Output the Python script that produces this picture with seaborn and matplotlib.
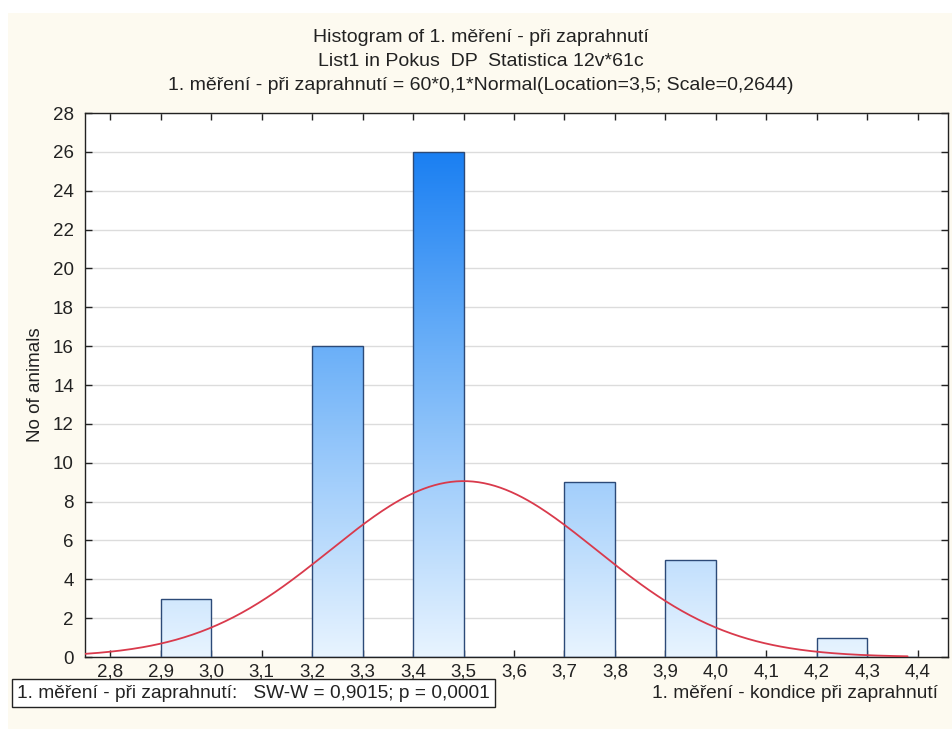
import numpy as np
import pandas as pd
import seaborn as sns
import matplotlib
matplotlib.use("Agg")
import matplotlib.pyplot as plt
from matplotlib.colors import LinearSegmentedColormap
from matplotlib.patches import Rectangle
from matplotlib.ticker import FuncFormatter

# ---- data ----
bin_edges = [2.8, 2.9, 3.0, 3.1, 3.2, 3.3, 3.4, 3.5, 3.6, 3.7, 3.8, 3.9, 4.0, 4.1, 4.2, 4.3, 4.4]
counts = [0, 3, 0, 0, 16, 0, 26, 0, 0, 9, 0, 5, 0, 0, 1, 0]
n_total = 60
bin_width = 0.1
fit_location = 3.5
fit_scale = 0.2644
x_ticks = [2.8, 2.9, 3.0, 3.1, 3.2, 3.3, 3.4, 3.5, 3.6, 3.7, 3.8, 3.9, 4.0, 4.1, 4.2, 4.3, 4.4]
y_ticks = list(range(0, 29, 2))

title_lines = ["Histogram of 1. měření - při zaprahnutí",
               "List1 in Pokus  DP  Statistica 12v*61c",
               "1. měření - při zaprahnutí = 60*0,1*Normal(Location=3,5; Scale=0,2644)"]
ylabel = "No of animals"
xlabel = "1. měření - kondice při zaprahnutí"
test_text = "1. měření - při zaprahnutí:   SW-W = 0,9015; p = 0,0001"

mids = [(a + b) / 2 for a, b in zip(bin_edges[:-1], bin_edges[1:])]
df = pd.DataFrame({"x": mids, "w": counts})

sns.set_theme(style="white")
plt.rcParams["font.family"] = ["Liberation Sans", "DejaVu Sans"]

W, H = 952, 729
FS = 13.5
TXT = "#222222"
fig = plt.figure(figsize=(W / 100, H / 100), dpi=100, facecolor="white")
fig.patches.append(Rectangle((8 / W, 0), 1, (H - 13) / H, transform=fig.transFigure,
                             facecolor="#fdfaf0", edgecolor="none", zorder=-10))

ax = fig.add_axes([85 / W, (H - 657) / H, (948 - 85) / W, (657 - 113) / H])
ax.set_facecolor("white")

sns.histplot(data=df, x="x", weights="w", bins=bin_edges, stat="count", ax=ax,
             color="white", edgecolor="#2c4a78", linewidth=1.0, alpha=1, zorder=3)

xmin, xmax = 2.75, 4.46

# gradient fill clipped to bars (light at 0, dark at 26)
cmap = LinearSegmentedColormap.from_list(
    "statblue", [(0.0, "#e8f4ff"), (9 / 26, "#a2cefb"), (16 / 26, "#6aaff8"), (1.0, "#1a7ff2")])
grad = np.linspace(0, 1, 256).reshape(-1, 1)
for p in ax.patches:
    if p.get_height() <= 0:
        continue
    p.set_facecolor("none")
    im = ax.imshow(grad, cmap=cmap, origin="lower", aspect="auto",
                   extent=[xmin, xmax, 0, 26], zorder=2.5)
    im.set_clip_path(p)
ax.set_xlim(xmin, xmax)
ax.set_ylim(0, 28)

# fitted normal curve
xs = np.linspace(xmin, 4.38, 300)
ys = n_total * bin_width * np.exp(-0.5 * ((xs - fit_location) / fit_scale) ** 2) / (fit_scale * np.sqrt(2 * np.pi))
sns.lineplot(x=xs, y=ys, ax=ax, color="#d93a4c", linewidth=1.3, zorder=4)

# grid and axes
ax.yaxis.grid(True, color="#dcdcdc", linewidth=1.0, zorder=0)
ax.xaxis.grid(False)
ax.set_axisbelow(True)
for s in ax.spines.values():
    s.set_visible(True)
    s.set_color("#222222")
    s.set_linewidth(1.0)
ax.set_xticks(x_ticks)
ax.set_yticks(y_ticks)
ax.xaxis.set_major_formatter(FuncFormatter(lambda v, p: f"{v:.1f}".replace(".", ",")))
ax.tick_params(axis="both", which="major", direction="in", length=5, width=1, color="#222222",
               top=True, right=True, bottom=True, left=True, labelsize=FS, labelcolor=TXT)
ax.tick_params(axis="x", pad=5)
ax.tick_params(axis="y", pad=8)
ax.set_xlabel("")
ax.set_ylabel("")

fig.text(35 / W, 1 - 385 / H, ylabel, rotation=90, ha="center", va="center", fontsize=FS, color=TXT)

for i, line in enumerate(title_lines):
    fig.text(481 / W, 1 - (37 + 24.5 * i) / H, line, ha="center", va="center", fontsize=14, color=TXT)

fig.text(17 / W, 1 - 693 / H, test_text, ha="left", va="center", fontsize=13.8, color=TXT,
         bbox=dict(boxstyle="square,pad=0.28", facecolor="white", edgecolor="#222222", linewidth=1))
fig.text(652 / W, 1 - 693 / H, xlabel, ha="left", va="center", fontsize=13.8, color=TXT)

fig.savefig("out.png", dpi=100, facecolor=fig.get_facecolor())
